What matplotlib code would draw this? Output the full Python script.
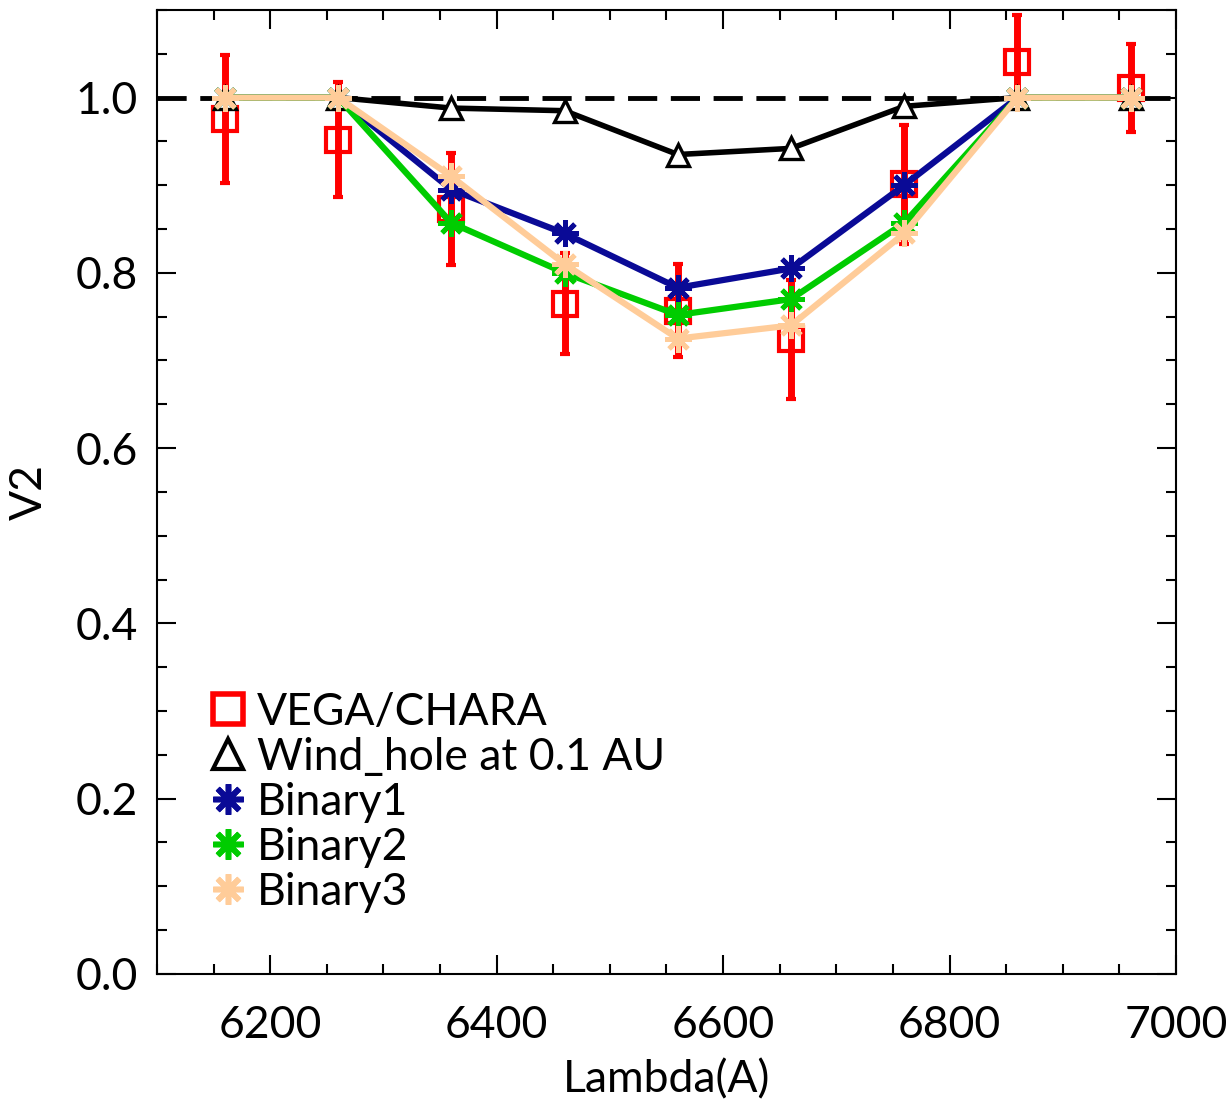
import numpy as np
import matplotlib
matplotlib.use("Agg")
import matplotlib.pyplot as plt
from matplotlib.lines import Line2D

# wavelength grid (Angstrom)
lam = [6160, 6260, 6360, 6460, 6560, 6660, 6760, 6860, 6960]

# VEGA/CHARA measured V2 with errors
v2_obs = [0.976, 0.952, 0.873, 0.765, 0.757, 0.724, 0.901, 1.041, 1.011]
v2_err = [0.073, 0.066, 0.064, 0.058, 0.053, 0.068, 0.068, 0.053, 0.050]

# models
v2_wind = [1.0, 1.0, 0.988, 0.985, 0.935, 0.942, 0.990, 1.0, 1.0]
v2_bin1 = [1.0, 1.0, 0.895, 0.845, 0.783, 0.805, 0.900, 1.0, 1.0]
v2_bin2 = [1.0, 1.0, 0.857, 0.800, 0.752, 0.770, 0.857, 1.0, 1.0]
v2_bin3 = [1.0, 1.0, 0.910, 0.810, 0.725, 0.740, 0.845, 1.0, 1.0]

labels = ["VEGA/CHARA", "Wind_hole at 0.1 AU", "Binary1", "Binary2", "Binary3"]

c_obs = "#ff0000"
c_bin1 = "#0a0a96"
c_bin2 = "#00cc00"
c_bin3 = "#ffcc99"
aster = (8, 2, 0)

plt.rcParams["font.family"] = ["Lato", "DejaVu Sans"]

fig = plt.figure(figsize=(12.3, 11.03), dpi=100)
ax = fig.add_axes([0.1276, 0.117, 0.8285, 0.874])

ax.axhline(1.0, color="black", lw=3.5, dashes=(6, 2.8), zorder=1)

ax.errorbar(lam, v2_obs, yerr=v2_err, fmt="s", ms=17, mfc="none", mec=c_obs,
            mew=3, ecolor=c_obs, elinewidth=5, capsize=3.5, capthick=4, zorder=2)

ax.plot(lam, v2_wind, color="black", lw=4, marker="^", ms=16, mfc="white",
        mec="black", mew=2.4, zorder=3)
ax.plot(lam, v2_bin1, color=c_bin1, lw=4.5, marker=aster, ms=19, mew=3.5, zorder=4)
ax.plot(lam, v2_bin2, color=c_bin2, lw=4.5, marker=aster, ms=19, mew=3.5, zorder=5)
ax.plot(lam, v2_bin3, color=c_bin3, lw=4.5, marker=aster, ms=19, mew=3.5, zorder=6)

ax.set_xlim(6100, 7000)
ax.set_ylim(0, 1.1)
ax.set_xticks(np.arange(6200, 7001, 200))
ax.set_xticks(np.arange(6100, 7001, 50), minor=True)
ax.set_yticks(np.arange(0, 1.01, 0.2))
ax.set_yticks(np.arange(0, 1.101, 0.05), minor=True)
ax.set_yticklabels(["%.1f" % v for v in np.arange(0, 1.01, 0.2)])

ax.tick_params(which="both", direction="in", top=True, right=True, width=1.5,
               labelsize=32, colors="black")
ax.tick_params(which="major", length=14)
ax.tick_params(which="minor", length=7)
ax.tick_params(axis="x", pad=22)
ax.tick_params(axis="y", pad=14)
for sp in ax.spines.values():
    sp.set_linewidth(1.5)

ax.set_xlabel("Lambda(A)", fontsize=32, labelpad=10)
ax.set_ylabel("V2", fontsize=32, labelpad=18)

handles = [
    Line2D([], [], ls="none", marker="s", ms=22, mfc="none", mec=c_obs, mew=4),
    Line2D([], [], ls="none", marker="^", ms=22, mfc="none", mec="black", mew=3),
    Line2D([], [], ls="none", marker=aster, ms=22, color=c_bin1, mew=4),
    Line2D([], [], ls="none", marker=aster, ms=22, color=c_bin2, mew=4),
    Line2D([], [], ls="none", marker=aster, ms=22, color=c_bin3, mew=4),
]
ax.legend(handles, labels, loc="upper left", bbox_to_anchor=(0.035, 0.311),
          frameon=False, fontsize=32, handlelength=0.8, handletextpad=0.25,
          labelspacing=0.09, borderaxespad=0)

fig.savefig("out.png", dpi=100)
